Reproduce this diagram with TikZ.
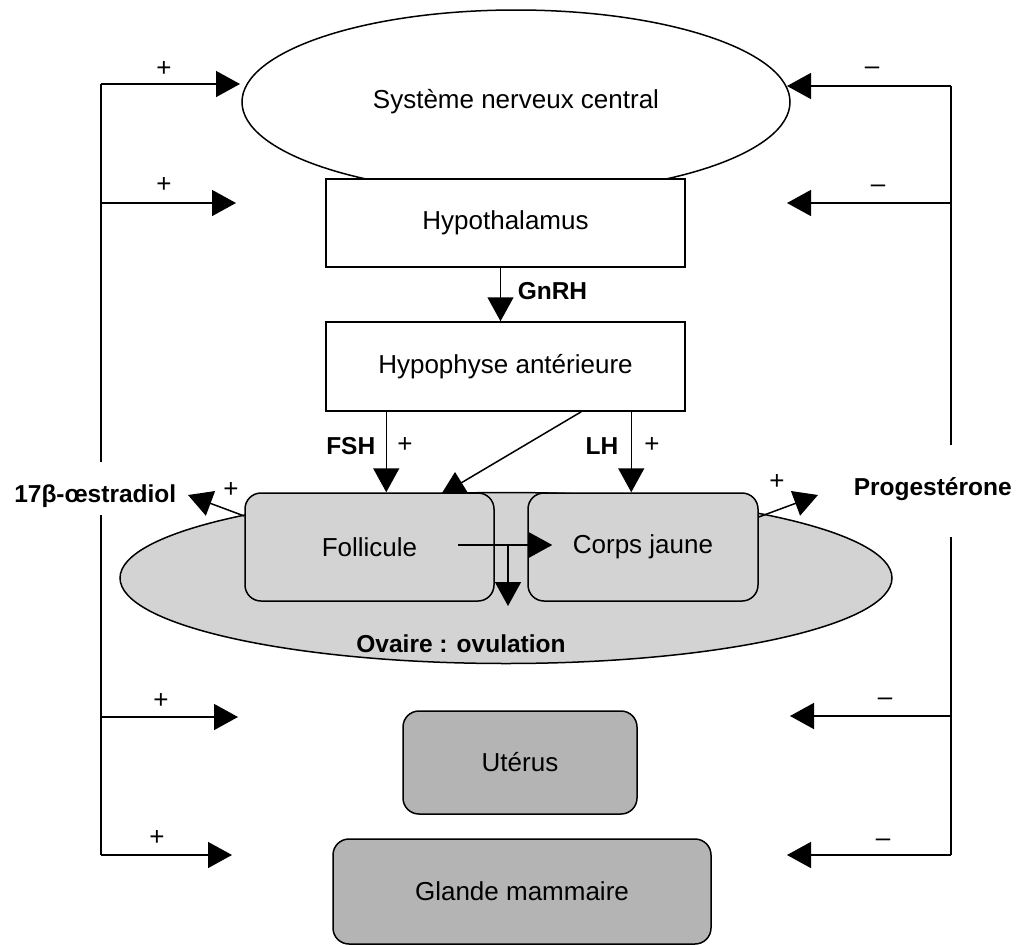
\documentclass[tikz,border=0pt]{standalone}
\usepackage{fontspec}
\setmainfont{Liberation Sans}
\usetikzlibrary{arrows.meta,shapes.geometric,calc}
\definecolor{lgray}{HTML}{D3D3D3}
\definecolor{dgray}{HTML}{B4B4B4}
\begin{document}
\begin{tikzpicture}[x=1pt,y=-1pt,line width=1.5pt,
  lbl/.style={font=\fontsize{26}{31}\selectfont, inner sep=0pt},
  blbl/.style={font=\fontsize{24.5}{30}\selectfont\bfseries, inner sep=0pt},
  tip/.style={-{Triangle[length=24pt,width=26pt]}},
  box/.style={draw, fill=white, font=\fontsize{26}{31}\selectfont, inner sep=0pt},
  rbox/.style={draw, rounded corners=16pt, font=\fontsize{26}{31}\selectfont, inner sep=0pt},
]
\useasboundingbox (0,0) rectangle (1021,945);

% central nervous system
\node[draw, ellipse, fill=white, minimum width=548pt, minimum height=184pt, inner sep=0pt,
      font=\fontsize{26}{31}\selectfont] (snc) at (516,102) {Système nerveux central};
\node[box, minimum width=359pt, minimum height=88pt] (hyp) at (505.5,223) {Hypothalamus};
\node[box, minimum width=359pt, minimum height=89pt] (ant) at (505.5,366.5) {Hypophyse antérieure};

% GnRH
\draw[tip] ($(hyp.south)+(-5,0)$) -- ($(ant.north)+(-5,0)$);
\node[blbl, anchor=base west] (gnrh) at (517,299) {GnRH};

% ovary
\node[draw, ellipse, fill=lgray, minimum width=772pt, minimum height=171pt, inner sep=0pt] (ov) at (506,578) {};
\node[blbl] (ovt) at (461,644) {Ovaire : ovulation};
\node[rbox, fill=lgray, minimum width=249pt, minimum height=108pt] (fol) at (369.5,547) {Follicule};
\node[rbox, fill=lgray, minimum width=230pt, minimum height=108pt] (cj) at (643,547) {Corps jaune};

% FSH / LH
\draw[tip] ($(ant.south west)+(61,0)$) -- ($(fol.north west)+(142,0)$);
\node[blbl, anchor=base east] (fsh) at (376,454) {FSH};
\node[lbl, anchor=center] (fshp) at (405,445) {+};
\draw[tip] ($(ant.south west)+(306,0)$) -- ($(cj.north west)+(104,0)$);
\node[blbl, anchor=base] (lh) at (602,454) {LH};
\node[lbl, anchor=center] (lhp) at (652,445) {+};

% LH surge to follicle (ovulation)
\coordinate (diagend) at (461,483);
\draw ($(ant.south west)+(256,0)$) -- (diagend);
\fill (442,493) -- (468,493) -- (455,472) -- cycle;

% follicle -> corps jaune, ovulation
\coordinate (fa) at (458,545);
\coordinate (fj) at (508,545);
\draw[tip] (fa) -- ($(cj.west)+(25,-2)$);
\draw[tip] (fj) -- (508,606);

% hormones
\draw[tip] ($(fol.west)+(0,-31)$) -- (188,495);
\node[blbl, anchor=base east] (estr) at (177,502) {17β-œstradiol};
\node[lbl] (estrp) at (231,490) {+};
\draw[tip] ($(cj.east)+(0,-30)$) -- (818,495);
\node[blbl, anchor=base west] (prog) at (853,495) {Progestérone};
\node[lbl] (progp) at (777,482) {+};

% targets
\node[rbox, fill=dgray, minimum width=234pt, minimum height=103pt] (ut) at (520,762.5) {Utérus};
\node[rbox, fill=dgray, minimum width=378pt, minimum height=105pt] (gm) at (522,891.5) {Glande mammaire};

% left feedback (estradiol, +)
\coordinate (L1) at (101,84);
\coordinate (L2) at (101,203);
\coordinate (Lgt) at (101,462);
\coordinate (Lgb) at (101,515);
\coordinate (L3) at (101,717);
\coordinate (L4) at (101,855);
\draw (Lgt) -- (L1);
\draw (Lgb) -- (L4);
\draw[tip] (L1) -- (240,84);
\draw[tip] (L2) -- (236,203);
\draw[tip] (L3) -- (238,717);
\draw[tip] (L4) -- (232,855);
\node[lbl] (p1) at (164,69) {+};
\node[lbl] (p2) at (164,185) {+};
\node[lbl] (p3) at (161,701) {+};
\node[lbl] (p4) at (157,838) {+};

% right feedback (progesterone, -)
\coordinate (R1) at (951,86);
\coordinate (R2) at (951,203);
\coordinate (Rgt) at (951,445);
\coordinate (Rgb) at (951,537);
\coordinate (R3) at (951,716);
\coordinate (R4) at (951,855);
\draw (Rgt) -- (R1);
\draw (Rgb) -- (R4);
\draw[tip] (R1) -- (787,86);
\draw[tip] (R2) -- (787,203);
\draw[tip] (R3) -- (790,716);
\draw[tip] (R4) -- (787,855);
\node[lbl] (m1) at (872,71) {\textendash};
\node[lbl] (m2) at (878,189) {\textendash};
\node[lbl] (m3) at (885,702) {\textendash};
\node[lbl] (m4) at (883,843) {\textendash};
\end{tikzpicture}
\end{document}
